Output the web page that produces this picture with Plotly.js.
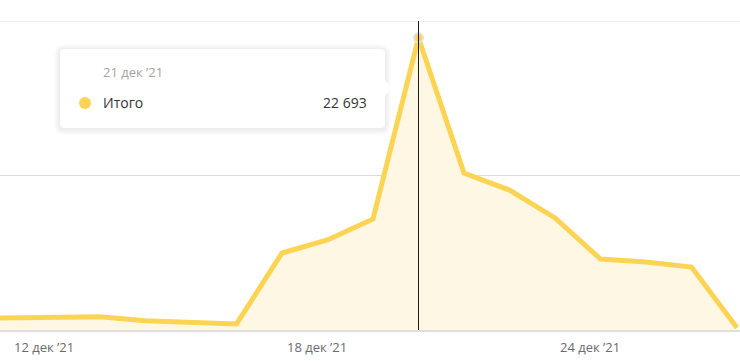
<!DOCTYPE html>
<html>
<head>
<meta charset="utf-8">
<script src="https://cdn.plot.ly/plotly-3.0.1.min.js"></script>
<style>
html,body{margin:0;padding:0;background:#fff;}
#chart{width:740px;height:361px;}
</style>
</head>
<body>
<div id="chart"></div>
<script>
// ---- data ----
const dates = ['2021-12-11','2021-12-12','2021-12-13','2021-12-14','2021-12-15','2021-12-16',
  '2021-12-17','2021-12-18','2021-12-19','2021-12-20','2021-12-21','2021-12-22','2021-12-23',
  '2021-12-24','2021-12-25','2021-12-26','2021-12-27','2021-12-28'];
const totals = [900, 930, 1050, 1030, 720, 600, 470, 5980, 6990, 8620, 22693, 12190, 10870,
  8700, 5510, 5280, 4890, 180];
const tickDates = ['2021-12-12','2021-12-18','2021-12-24'];
const tickLabels = ['12 дек ’21','18 дек ’21','24 дек ’21'];
const gridValues = [12000, 24000];
const seriesName = 'Итого';
const tooltipDate = '21 дек ’21';
const tooltipValue = '22 693';
const selectedIndex = 10;

// ---- layout helpers ----
const W = 740, H = 361, mt = 21, mb = 31;
const ph = H - mt - mb;
const px = x => x / W;
const py = y => (H - mb - y) / ph;

function roundRect(x0, y0, x1, y1, r, arrow) {
  const rx = r / W, ry = r / ph;
  const X0 = px(x0), X1 = px(x1), Y0 = py(y0), Y1 = py(y1);
  let p = `M${X0 + rx},${Y0} L${X1 - rx},${Y0} Q${X1},${Y0} ${X1},${Y0 - ry} `;
  if (arrow) {
    p += `L${X1},${py(arrow.y - 8)} L${px(x1 + 7)},${py(arrow.y)} L${X1},${py(arrow.y + 8)} `;
  }
  p += `L${X1},${Y1 + ry} Q${X1},${Y1} ${X1 - rx},${Y1} L${X0 + rx},${Y1} Q${X0},${Y1} ${X0},${Y1 + ry} L${X0},${Y0 - ry} Q${X0},${Y0} ${X0 + rx},${Y0} Z`;
  return p;
}

const lineColor = '#fcd453';
const fillColor = '#fef7e3';
const yMax = gridValues[gridValues.length - 1];

const shapes = [];
// gridlines (drawn as shapes so the top one at the edge is visible)
gridValues.forEach(v => shapes.push({type:'line', xref:'paper', yref:'y', x0:0, x1:1, y0:v, y1:v,
  line:{color:'#dcdcdc', width:1}, layer:'below'}));
// vertical cursor line
shapes.push({type:'line', xref:'x', yref:'paper', x0:dates[selectedIndex], x1:dates[selectedIndex],
  y0:0, y1:1, line:{color:'#1a1a1a', width:1}, layer:'above'});
// tooltip shadow
const bx0 = 60, by0 = 49, bx1 = 385, by1 = 128;
for (let i = 6; i >= 1; i--) {
  shapes.push({type:'path', xref:'paper', yref:'paper',
    path: roundRect(bx0 - i, by0 - i + 1, bx1 + i, by1 + i + 1, 4 + i),
    fillcolor:'rgba(0,0,0,0.012)', line:{width:0}, layer:'above'});
}
shapes.push({type:'path', xref:'paper', yref:'paper',
  path: roundRect(bx0, by0, bx1, by1, 4, {y: 88}),
  fillcolor:'#ffffff', line:{width:0}, layer:'above'});
// legend dot in tooltip
shapes.push({type:'circle', xref:'paper', yref:'paper',
  x0:px(79), x1:px(91), y0:py(109), y1:py(97), fillcolor:lineColor, line:{width:0}, layer:'above'});

const annotations = [
  {xref:'paper', yref:'paper', x:px(101), y:py(72), xanchor:'left', yanchor:'middle', showarrow:false,
    text:tooltipDate, font:{family:'Open Sans, sans-serif', size:13, color:'#a3a3a3'}},
  {xref:'paper', yref:'paper', x:px(101), y:py(103), xanchor:'left', yanchor:'middle', showarrow:false,
    text:seriesName, font:{family:'Open Sans, sans-serif', size:14, color:'#333333'}},
  {xref:'paper', yref:'paper', x:px(369), y:py(103), xanchor:'right', yanchor:'middle', showarrow:false,
    text:tooltipValue, font:{family:'Open Sans, sans-serif', size:14, color:'#333333'}}
];
// x tick labels, left-aligned at their dates
tickDates.forEach((d, i) => annotations.push({xref:'x', yref:'paper', x:d, y:py(347),
  xanchor:'left', yanchor:'middle', xshift:3, showarrow:false, text:tickLabels[i],
  font:{family:'Open Sans, sans-serif', size:13, color:'#6b6b6b'}}));

const traces = [
  {x:dates, y:totals, type:'scatter', mode:'lines', fill:'tozeroy', fillcolor:fillColor,
    line:{color:lineColor, width:5, shape:'linear'}, hoverinfo:'skip', showlegend:false},
  {x:[dates[selectedIndex]], y:[totals[selectedIndex]], type:'scatter', mode:'markers',
    marker:{size:9, color:lineColor, line:{color:'#e2e2e2', width:2}}, hoverinfo:'skip',
    showlegend:false, cliponaxis:false}
];

const layout = {
  width:W, height:H,
  margin:{l:0, r:0, t:mt, b:mb, pad:0},
  paper_bgcolor:'#ffffff', plot_bgcolor:'#ffffff',
  showlegend:false, hovermode:false,
  xaxis:{type:'date', range:['2021-12-11 19:15','2021-12-28 01:35'],
    showticklabels:false, ticks:'', showgrid:false, zeroline:false,
    showline:true, linecolor:'#dedede', linewidth:2},
  yaxis:{range:[0, yMax], showticklabels:false, ticks:'',
    showgrid:false, zeroline:false, showline:false},
  shapes:shapes, annotations:annotations
};

Plotly.newPlot('chart', traces, layout, {displayModeBar:false, staticPlot:true});
</script>
</body>
</html>
